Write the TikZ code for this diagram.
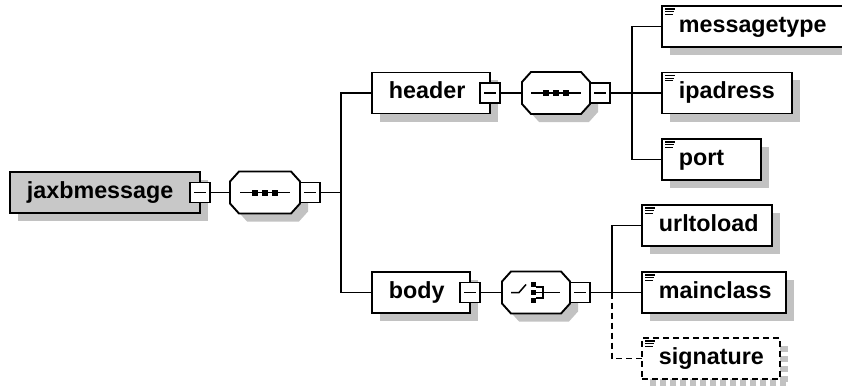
\documentclass[tikz,border=0pt]{standalone}
\usepackage{fontspec}
\setmainfont{Liberation Sans}
\usetikzlibrary{calc,shadows}
\definecolor{shadowgray}{RGB}{194,194,194}
\definecolor{rootfill}{RGB}{200,200,200}
\tikzset{
  elembox/.style={draw, fill=white, anchor=north west, inner sep=0pt, outer sep=0pt,
    minimum height=41pt,
    drop shadow={shadow xshift=8pt, shadow yshift=-8pt, fill=shadowgray, opacity=1}},
  optbox/.style={draw, dash pattern=on 6pt off 4pt, fill=white, anchor=north west, inner sep=0pt, outer sep=0pt,
    minimum height=41pt},
  minusbox/.style={draw, fill=white, minimum size=20pt, inner sep=0pt, outer sep=0pt},
  octbox/.style={inner sep=0pt, outer sep=0pt, minimum height=42pt},
  lbl/.style={anchor=base west, inner sep=0pt, font=\fontsize{23.3}{28}\selectfont\bfseries},
  conn/.style={line width=1.9pt},
  sym/.style={line width=1.5pt},
}
\newcommand\octagon[1]{%
  \fill[shadowgray] ($(#1.north west)+(17,8)$) -- ($(#1.north east)+(-1,8)$) -- ($(#1.north east)+(8,18)$) -- ($(#1.south east)+(8,-2)$) -- ($(#1.south east)+(-1,8)$) -- ($(#1.south west)+(17,8)$) -- ($(#1.south west)+(8,-2)$) -- ($(#1.north west)+(8,18)$) -- cycle;
  \filldraw[fill=white] ($(#1.north west)+(9,0)$) -- ($(#1.north east)+(-9,0)$) -- ($(#1.north east)+(0,10)$) -- ($(#1.south east)+(0,-10)$) -- ($(#1.south east)+(-9,0)$) -- ($(#1.south west)+(9,0)$) -- ($(#1.south west)+(0,-10)$) -- ($(#1.north west)+(0,10)$) -- cycle;
}
\newcommand\minusmark[1]{\draw[sym] ($(#1.center)+(-6,0)$) -- ($(#1.center)+(6,0)$);}
\newcommand\typeicon[1]{%
  \draw[line width=1.2pt] ($(#1.north west)+(3,3)$) -- ++(10,0);
  \draw[line width=1.2pt] ($(#1.north west)+(3,5.7)$) -- ++(9,0);
  \draw[line width=1.2pt] ($(#1.north west)+(3,8.4)$) -- ++(8,0);
}
\begin{document}
\begin{tikzpicture}[x=1pt, y=-1pt, line width=1.9pt]
\useasboundingbox (0,0) rectangle (842,385);
\clip (0,0) rectangle (842,385);

% root
\node[elembox, fill=rootfill, minimum width=190pt] (root) at (10,172) {};
\node[lbl] (t-root) at ($(root.west)+(16,6)$) {jaxbmessage};
\node[minusbox] (rootm) at (200,192.5) {};
\minusmark{rootm}

% sequence 1
\node[octbox, minimum width=70pt] (s1) at (265,192.5) {};
\octagon{s1}
\draw[sym] ($(s1.center)+(-25,0)$) -- ($(s1.center)+(25,0)$);
\fill ($(s1.center)+(-13,-3)$) rectangle ++(6,6);
\fill ($(s1.center)+(-3,-3)$) rectangle ++(6,6);
\fill ($(s1.center)+(7,-3)$) rectangle ++(6,6);
\node[minusbox] (s1m) at (310,192.5) {};
\minusmark{s1m}
\coordinate (j1) at (341,192.5);

% header
\node[elembox, minimum width=118pt] (header) at (372,72.5) {};
\node[lbl] (t-header) at ($(header.west)+(16,6)$) {header};
\node[minusbox] (mh) at (490,93) {};
\minusmark{mh}
\node[octbox, minimum width=68pt] (s2) at (556,93) {};
\octagon{s2}
\draw[sym] ($(s2.center)+(-25,0)$) -- ($(s2.center)+(25,0)$);
\fill ($(s2.center)+(-13,-3)$) rectangle ++(6,6);
\fill ($(s2.center)+(-3,-3)$) rectangle ++(6,6);
\fill ($(s2.center)+(7,-3)$) rectangle ++(6,6);
\node[minusbox] (s2m) at (600,93) {};
\minusmark{s2m}
\coordinate (j2) at (632,93);

% body
\node[elembox, minimum width=98pt] (body) at (372,272) {};
\node[lbl] (t-body) at ($(body.west)+(16,6)$) {body};
\node[minusbox] (mb) at (470,292.5) {};
\minusmark{mb}
\node[octbox, minimum width=68pt] (s3) at (536,292.5) {};
\octagon{s3}
\draw[sym] ($(s3.center)+(-25,0)$) -- ($(s3.center)+(-17,0)$) -- ($(s3.center)+(-10,-8)$);
\fill ($(s3.center)+(-5,-10.5)$) rectangle ++(5,5);
\fill ($(s3.center)+(-5,-2.5)$) rectangle ++(5,5);
\fill ($(s3.center)+(-5,5.5)$) rectangle ++(5,5);
\draw[sym] ($(s3.center)+(0,-5.5)$) -- ($(s3.center)+(7,-5.5)$) -- ($(s3.center)+(7,5.5)$) -- ($(s3.center)+(0,5.5)$);
\draw[sym] ($(s3.center)+(0,0)$) -- ($(s3.center)+(24,0)$);
\node[minusbox] (s3m) at (580,292.5) {};
\minusmark{s3m}
\coordinate (j3) at (612,292.5);

% header children
\node[elembox, minimum width=185pt] (messagetype) at (662,6) {};
\typeicon{messagetype}
\node[lbl] (t-messagetype) at ($(messagetype.west)+(16,6)$) {messagetype};
\node[elembox, minimum width=130pt] (ipadress) at (662,72.5) {};
\typeicon{ipadress}
\node[lbl] (t-ipadress) at ($(ipadress.west)+(16,6)$) {ipadress};
\node[elembox, minimum width=99pt] (port) at (662,139) {};
\typeicon{port}
\node[lbl] (t-port) at ($(port.west)+(16,6)$) {port};

% body children
\node[elembox, minimum width=130pt] (urltoload) at (642,205) {};
\typeicon{urltoload}
\node[lbl] (t-urltoload) at ($(urltoload.west)+(16,6)$) {urltoload};
\node[elembox, minimum width=144pt] (mainclass) at (642,272) {};
\typeicon{mainclass}
\node[lbl] (t-mainclass) at ($(mainclass.west)+(16,6)$) {mainclass};
\draw[shadowgray, line width=8pt, dash pattern=on 6pt off 4pt] (784,346) -- (784,386);
\draw[shadowgray, line width=8pt, dash pattern=on 6pt off 4pt] (650,382) -- (788,382);
\node[optbox, minimum width=138pt] (signature) at (642,338) {};
\typeicon{signature}
\node[lbl] (t-signature) at ($(signature.west)+(16,6)$) {signature};

% connectors
\draw[conn] (rootm.east) -- (s1.west);
\draw[conn] (s1m.east) -- (j1);
\draw[conn] (header.west) -| (j1) |- (body.west);
\draw[conn] (mh.east) -- (s2.west);
\draw[conn] (s2m.east) -- (j2);
\draw[conn] (messagetype.west) -| (j2) |- (port.west);
\draw[conn] (j2) -- (ipadress.west);
\draw[conn] (mb.east) -- (s3.west);
\draw[conn] (s3m.east) -- (j3);
\draw[conn] (urltoload.west) -| (j3) -- (mainclass.west);
\draw[conn, dash pattern=on 6pt off 4pt] (j3) |- (signature.west);
\end{tikzpicture}
\end{document}
